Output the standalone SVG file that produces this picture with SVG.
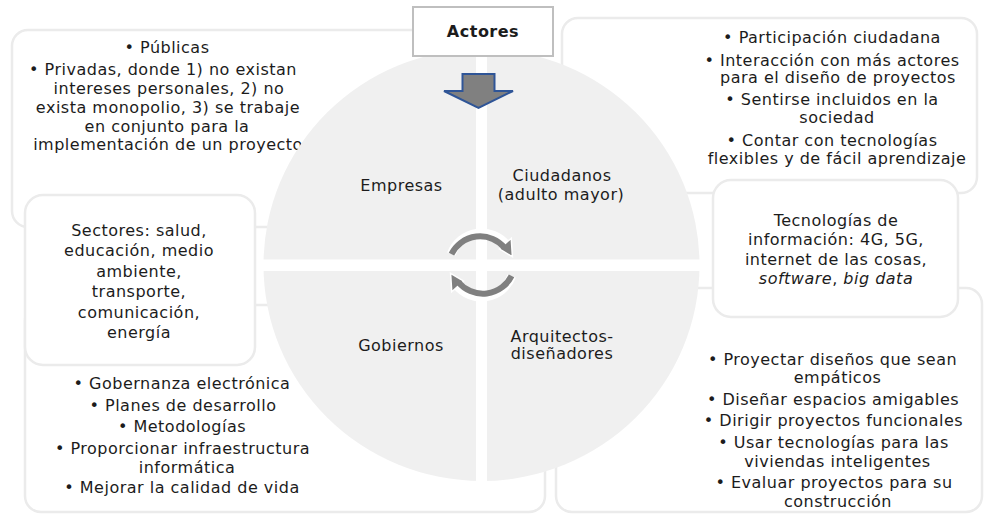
<svg xmlns="http://www.w3.org/2000/svg" width="1007" height="517" viewBox="0 0 1007 517">
<style>
.box{fill:#ffffff;stroke:#ebebeb;stroke-width:2.5}
.t{font-family:"DejaVu Sans",Verdana,sans-serif;font-size:16px;letter-spacing:0.5px;fill:#1c1c1c;text-anchor:middle}
.q{fill:#f0f0f0}
.gap{fill:#ffffff}
</style>
<defs>
<g id="cyc">
<path d="M451.43 254.06 A32 32 0 0 1 506.72 245.30" fill="none" stroke="#ffffff" stroke-width="9"/>
<polygon points="499.33,248.94 511.23,238.23 512.41,256.72" fill="#808080" stroke="#ffffff" stroke-width="1.5" stroke-linejoin="miter"/>
<path d="M451.43 254.06 A32 32 0 0 1 504.5 247.6" fill="none" stroke="#808080" stroke-width="6"/>
</g>
</defs>
<g id="node-publicas">
<rect class="box" x="12" y="30" width="430" height="197" rx="16"/>
<text class="t"><tspan x="167" y="53">• Públicas</tspan><tspan x="163" y="75">• Privadas, donde 1) no existan</tspan><tspan x="169" y="94">intereses personales, 2) no</tspan><tspan x="168" y="113">exista monopolio, 3) se trabaje</tspan><tspan x="167" y="132">en conjunto para la</tspan><tspan x="168" y="150">implementación de un proyecto</tspan></text>
</g>
<g id="node-participacion">
<rect class="box" x="562" y="18" width="415" height="175" rx="16"/>
<text class="t"><tspan x="832" y="43">• Participación ciudadana</tspan><tspan x="832" y="65.5">• Interacción con más actores</tspan><tspan x="838" y="83">para el diseño de proyectos</tspan><tspan x="832" y="105">• Sentirse incluidos en la</tspan><tspan x="837" y="123">sociedad</tspan><tspan x="832" y="145.5">• Contar con tecnologías</tspan><tspan x="837" y="164">flexibles y de fácil aprendizaje</tspan></text>
</g>
<g id="node-gobernanza">
<rect class="box" x="25" y="305" width="520" height="207" rx="16"/>
<text class="t"><tspan x="182" y="389">• Gobernanza electrónica</tspan><tspan x="183" y="410.5">• Planes de desarrollo</tspan><tspan x="182" y="431.5">• Metodologías</tspan><tspan x="182.5" y="454">• Proporcionar infraestructura</tspan><tspan x="187" y="473">informática</tspan><tspan x="182" y="493">• Mejorar la calidad de vida</tspan></text>
</g>
<g id="node-arquitectos-box">
<rect class="box" x="556" y="288" width="426" height="224" rx="16"/>
<text class="t"><tspan x="832.5" y="364.5">• Proyectar diseños que sean</tspan><tspan x="837.5" y="383">empáticos</tspan><tspan x="833" y="404.5">• Diseñar espacios amigables</tspan><tspan x="833.5" y="425.5">• Dirigir proyectos funcionales</tspan><tspan x="833.5" y="448">• Usar tecnologías para las</tspan><tspan x="837.5" y="466.5">viviendas inteligentes</tspan><tspan x="834" y="488">• Evaluar proyectos para su</tspan><tspan x="838" y="506.5">construcción</tspan></text>
</g>
<g id="node-sectores">
<rect class="box" x="25" y="195" width="230" height="170" rx="18"/>
<text class="t"><tspan x="139" y="235.5">Sectores: salud,</tspan><tspan x="139" y="256">educación, medio</tspan><tspan x="139" y="277">ambiente,</tspan><tspan x="139" y="297">transporte,</tspan><tspan x="139" y="318">comunicación,</tspan><tspan x="139" y="338">energía</tspan></text>
</g>
<g id="node-tecnologias">
<rect class="box" x="713" y="180" width="245" height="137" rx="18"/>
<text class="t"><tspan x="836" y="225.5">Tecnologías de</tspan><tspan x="836" y="245">información: 4G, 5G,</tspan><tspan x="836" y="264.5">internet de las cosas,</tspan><tspan x="836" y="284"><tspan font-style="italic">software</tspan>, <tspan font-style="italic">big data</tspan></tspan></text>
</g>
<g id="node-circle">
<ellipse class="q" cx="481.5" cy="265" rx="218" ry="216"/>
<rect class="gap" x="476" y="40" width="11" height="450"/>
<rect class="gap" x="258" y="259.5" width="450" height="11.5"/>
</g>
<g id="node-empresas"><text class="t" x="401.5" y="191">Empresas</text></g>
<g id="node-ciudadanos"><text class="t"><tspan x="562" y="181">Ciudadanos</tspan><tspan x="561" y="199.5">(adulto mayor)</tspan></text></g>
<g id="node-gobiernos"><text class="t" x="401" y="350.5">Gobiernos</text></g>
<g id="node-arquitectos"><text class="t"><tspan x="562" y="342">Arquitectos-</tspan><tspan x="562" y="359">diseñadores</tspan></text></g>
<g id="node-actores">
<rect x="413" y="7" width="140" height="49" fill="#ffffff" stroke="#bfbfbf" stroke-width="2"/>
<text class="t" x="483" y="37" font-weight="bold" fill="#000000">Actores</text>
</g>
<g id="connectors">
<polygon points="462.5,74 494.5,74 494.5,91 513,91 478.5,108 444,91 462.5,91" fill="#808080" stroke="#2f5597" stroke-width="2" stroke-linejoin="miter"/>
<use href="#cyc"/>
<use href="#cyc" transform="rotate(180 481.5 265)"/>
</g>
</svg>
